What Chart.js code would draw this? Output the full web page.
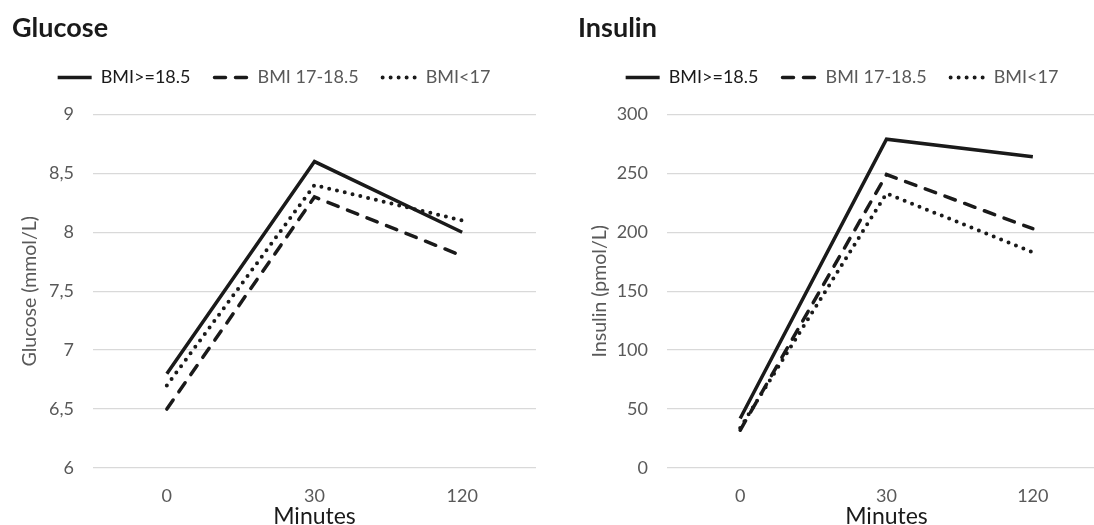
<!DOCTYPE html>
<html lang="en">
<head>
    <meta charset="UTF-8">
    <title>Glucose and insulin</title>
    <script src="https://cdn.jsdelivr.net/npm/chart.js@4.4.1/dist/chart.umd.min.js"></script>
    <style>
        body{ margin:0; background:#fff; overflow:hidden; }
        .board{ position:absolute; top:0; height:525px; }
        #left{ left:0; width:547px; }
        #right{ left:547px; width:560px; }
    </style>
</head>
<body>
    <div class="board" id="left"><canvas id="chart1"></canvas></div>
    <div class="board" id="right"><canvas id="chart2"></canvas></div>
<script>
    // data
    const minutes = ['0', '30', '120'];
    const seriesNames = ['BMI>=18.5', 'BMI 17-18.5', 'BMI<17'];

    const glucoseNormal = [6.8, 8.6, 8.0];
    const glucoseMid = [6.5, 8.3, 7.8];
    const glucoseLow = [6.7, 8.4, 8.1];
    const glucoseTicks = ['6', '6,5', '7', '7,5', '8', '8,5', '9'];

    const insulinNormal = [42, 279, 264];
    const insulinMid = [32, 249, 203];
    const insulinLow = [34, 233, 183];
    const insulinTicks = ['0', '50', '100', '150', '200', '250', '300'];

    const grey = '#595959';
    const ink = '#1a1a1a';
    const font = 'Lato, "Open Sans", sans-serif';

    // line look for each series: solid, dashed, dotted
    const looks = [
        { borderDash: [], borderWidth: 3.5, borderCapStyle: 'butt', legendColor: ink },
        { borderDash: [11, 10], borderWidth: 3.5, borderCapStyle: 'round', legendColor: grey },
        { borderDash: [0, 8], borderWidth: 4, borderCapStyle: 'round', legendColor: grey }
    ];

    // leaves some room under the legend, like the original
    const legendRoom = {
        id: 'legendRoom',
        beforeLayout(chart){
            const lg = chart.legend;
            if (lg && !lg._roomy){
                const fit = lg.fit.bind(lg);
                lg.fit = function(){ fit(); this.height += 18; };
                lg._roomy = true;
            }
        }
    };

    function makeChart(id, title, yTitle, series, ticks, yMin, yMax, step, box){
        const datasets = series.map((vals, i) => ({
            label: seriesNames[i],
            data: vals,
            borderColor: ink,
            backgroundColor: ink,
            borderWidth: looks[i].borderWidth,
            borderDash: looks[i].borderDash,
            borderCapStyle: looks[i].borderCapStyle,
            borderJoinStyle: 'miter',
            pointRadius: 0,
            pointHoverRadius: 0,
            pointStyle: 'line',
            tension: 0
        }));

        return new Chart(document.getElementById(id), {
            type: 'line',
            data: { labels: minutes, datasets: datasets },
            plugins: [legendRoom],
            options: {
                responsive: true,
                maintainAspectRatio: false,
                animation: false,
                layout: { padding: { left: box.padLeft, right: box.padRight, top: 0, bottom: 0 } },
                plugins: {
                    tooltip: { enabled: false },
                    title: {
                        display: true,
                        text: title,
                        align: 'start',
                        color: ink,
                        font: { family: font, size: 27, weight: 'bold' },
                        padding: { top: 12, bottom: 0 }
                    },
                    legend: {
                        display: true,
                        labels: {
                            usePointStyle: true,
                            pointStyleWidth: 34,
                            boxWidth: 34,
                            boxHeight: 16,
                            padding: 24,
                            font: { family: font, size: 18 },
                            generateLabels(chart){
                                const items = Chart.defaults.plugins.legend.labels.generateLabels(chart);
                                items.forEach((it, i) => {
                                    it.fontColor = looks[i].legendColor;
                                    it.pointStyle = 'line';
                                    it.lineDash = looks[i].borderDash;
                                    it.lineCap = looks[i].borderCapStyle;
                                    it.lineWidth = looks[i].borderWidth;
                                    it.strokeStyle = ink;
                                });
                                return items;
                            }
                        }
                    }
                },
                scales: {
                    x: {
                        offset: true,
                        grid: { display: false },
                        border: { display: false },
                        ticks: { color: grey, font: { family: font, size: 18 }, padding: 9 },
                        title: {
                            display: true,
                            text: 'Minutes',
                            color: ink,
                            font: { family: font, size: 23, lineHeight: 0.7 },
                            padding: 0
                        },
                        afterFit(s){ s.height = 57; }
                    },
                    y: {
                        min: yMin,
                        max: yMax,
                        grid: { color: '#d9d9d9', lineWidth: 1.3, drawTicks: false },
                        border: { display: false },
                        ticks: {
                            stepSize: step,
                            color: grey,
                            padding: 19,
                            font: { family: font, size: 18 },
                            callback: (v, i) => ticks[i]
                        },
                        title: {
                            display: true,
                            text: yTitle,
                            color: grey,
                            font: { family: font, size: 19.5 },
                            padding: { top: box.titlePad, bottom: 0 }
                        },
                        afterFit(s){ s.width = box.yWidth; }
                    }
                }
            }
        });
    }

    makeChart('chart1', 'Glucose', 'Glucose (mmol/L)',
        [glucoseNormal, glucoseMid, glucoseLow], glucoseTicks, 6, 9, 0.5,
        { padLeft: 12, padRight: 11, yWidth: 81, titlePad: 6 });

    makeChart('chart2', 'Insulin', 'Insulin (pmol/L)',
        [insulinNormal, insulinMid, insulinLow], insulinTicks, 0, 300, 50,
        { padLeft: 31, padRight: 1, yWidth: 89, titlePad: 10 });
</script>
</body>
</html>
